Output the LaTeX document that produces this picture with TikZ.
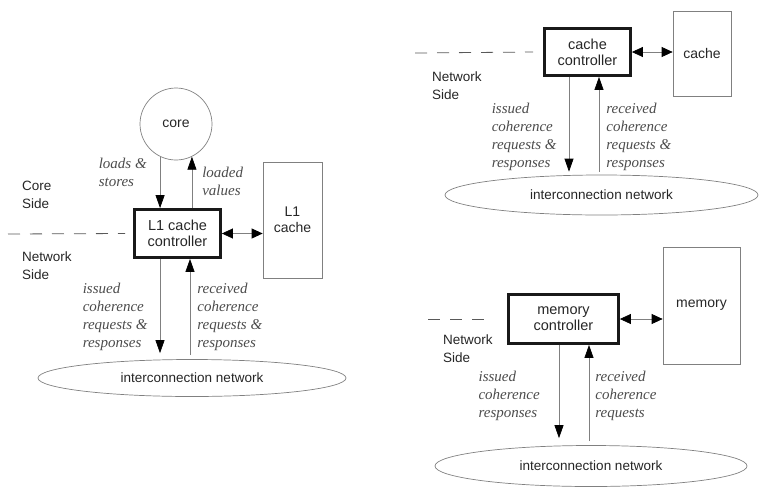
\documentclass[tikz,border=0pt]{standalone}
\usepackage{fontspec}
\setmainfont{Liberation Sans}
\newfontfamily\msgfont{Liberation Serif}
\usetikzlibrary{arrows.meta,positioning,shapes.geometric}

\tikzset{
  ctrl/.style={draw=black!90, line width=2.8pt, align=center, inner sep=0pt, font=\fontsize{14.5}{16}\selectfont},
  store/.style={draw=black!50, line width=0.7pt, align=center, inner sep=0pt},
  net/.style={ellipse, draw=black!50, line width=0.7pt, inner sep=0pt, font=\fontsize{13.5}{16}\selectfont},
  side/.style={anchor=west, align=left, inner sep=0pt, font=\fontsize{13.5}{18}\selectfont},
  msg/.style={font=\msgfont\itshape\fontsize{15}{18}\selectfont, text=black!70, align=left, inner sep=0pt},
  link/.style={-{Triangle[length=13pt,width=9pt,color=black]}, draw=black!50, line width=0.7pt},
  dlink/.style={{Triangle[length=11pt,width=10pt,color=black]}-{Triangle[length=11pt,width=10pt,color=black]}, draw=black!50, line width=0.7pt},
  divide/.style={draw=black!65, line width=0.8pt, dash pattern=on 12pt off 10pt},
}

\begin{document}
\begin{tikzpicture}[x=1pt, y=-1pt, font=\fontsize{14}{16}\selectfont, text=black!85]
  \useasboundingbox (0,0) rectangle (761,488);

  % L1 cache controller
  \node (core) [circle, draw=black!50, line width=0.7pt, minimum size=72pt] at (176,124) {core};
  \node (l1ctl) [ctrl, minimum width=86pt, minimum height=48pt] at (177.5,233.5) {L1 cache\\controller};
  \node (l1cache) [store, minimum width=59pt, minimum height=116pt] at (292.5,220) {L1\\cache};
  \node (net1) [net, minimum width=308pt, minimum height=37pt] at (192,378) {interconnection network};
  \node (coreside) [side] at (22,195) {Core\\Side};
  \node (netside1) [side] at (22,266) {Network\\Side};
  \coordinate (d1) at (8,234);
  \coordinate (iss1) at ([xshift=-17.5pt]l1ctl.south);
  \coordinate (rcv1) at ([xshift=12.5pt]l1ctl.south);
  \draw[divide] (d1) -- ([xshift=-8pt]l1ctl.west);
  \draw[dlink] (l1ctl.east) -- (l1ctl.east -| l1cache.west);
  \draw[link] (core.244) -- node[msg, left=13pt, pos=0.31] {loads \&\\stores} (core.244 |- l1ctl.north);
  \draw[link] (l1ctl.north -| core.296) -- node[msg, right=10pt, pos=0.52] {loaded\\values} (core.296);
  \draw[link, shorten >=6pt] (iss1) -- node[msg, left=12pt, pos=0.58] {issued\\coherence\\requests \&\\responses} (iss1 |- net1.north);
  \draw[link, shorten <=4pt] (rcv1 |- net1.north) -- node[msg, right=7pt, pos=0.42] {received\\coherence\\requests \&\\responses} (rcv1);

  % cache controller
  \node (cctl) [ctrl, minimum width=86pt, minimum height=47pt] at (587.5,52) {cache\\controller};
  \node (cache) [store, minimum width=58pt, minimum height=85pt] at (702,53.5) {cache};
  \node (net2) [net, minimum width=313pt, minimum height=40pt] at (601.5,195) {interconnection network};
  \node (netside2) [side] at (432,85.5) {Network\\Side};
  \coordinate (d2) at (415,53);
  \coordinate (iss2) at ([xshift=-18.5pt]cctl.south);
  \coordinate (rcv2) at ([xshift=11.5pt]cctl.south);
  \draw[divide] (d2) -- ([xshift=-10pt]cctl.west);
  \draw[dlink] (cctl.east) -- (cctl.east -| cache.west);
  \draw[link, shorten >=3pt] (iss2) -- node[msg, left=12pt, pos=0.61] {issued\\coherence\\requests \&\\responses} (iss2 |- net2.north);
  \draw[link, shorten <=3pt] (rcv2 |- net2.north) -- node[msg, right=7pt, pos=0.39] {received\\coherence\\requests \&\\responses} (rcv2);

  % memory controller
  \node (mctl) [ctrl, minimum width=110pt, minimum height=49pt] at (563.5,319) {memory\\controller};
  \node (memory) [store, minimum width=77pt, minimum height=117pt] at (701.5,305.5) {memory};
  \node (net3) [net, minimum width=312pt, minimum height=41pt] at (591,466) {interconnection network};
  \node (netside3) [side] at (443,348.5) {Network\\Side};
  \coordinate (d3) at (428,319);
  \coordinate (iss3) at ([xshift=-4.5pt]mctl.south);
  \coordinate (rcv3) at ([xshift=25.5pt]mctl.south);
  \draw[divide] (d3) -- ([xshift=-22pt]mctl.west);
  \draw[dlink] (mctl.east) -- (mctl.east -| memory.west);
  \draw[link, shorten >=7pt] (iss3) -- node[msg, left=19pt, pos=0.51] {issued\\coherence\\responses} (iss3 |- net3.north);
  \draw[link, shorten <=4pt] (rcv3 |- net3.north) -- node[msg, right=6pt, pos=0.49] {received\\coherence\\requests} (rcv3);
\end{tikzpicture}
\end{document}
